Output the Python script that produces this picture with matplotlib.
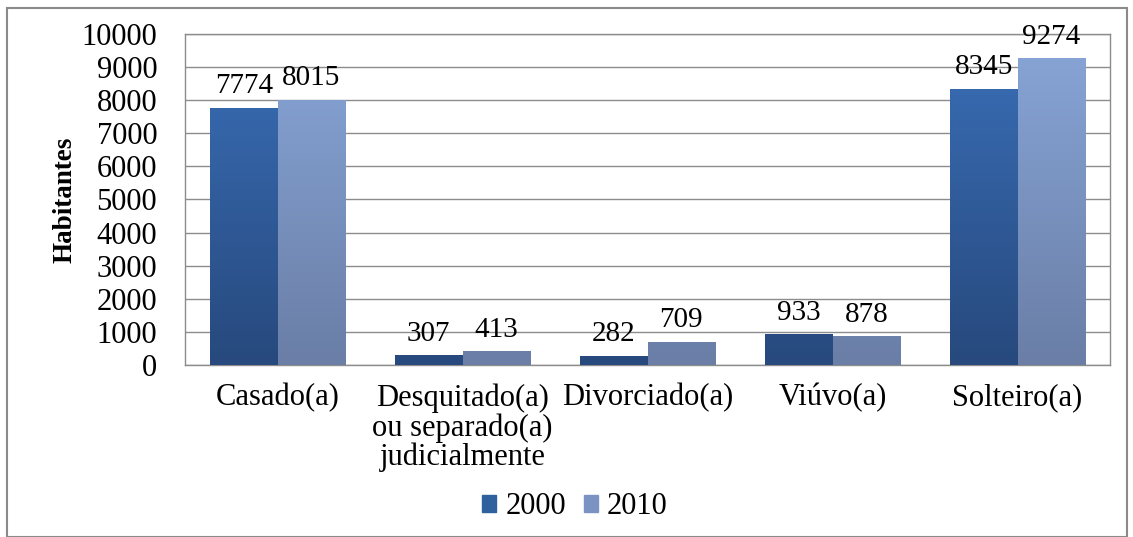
import matplotlib
matplotlib.use("Agg")
import matplotlib.pyplot as plt
import numpy as np
from matplotlib.patches import Rectangle
from matplotlib.colors import LinearSegmentedColormap

categories = ["Casado(a)", "Desquitado(a)\nou separado(a)\njudicialmente", "Divorciado(a)", "Viúvo(a)", "Solteiro(a)"]
series_names = ["2000", "2010"]
values_2000 = [7774, 307, 282, 933, 8345]
values_2010 = [8015, 413, 709, 878, 9274]
yticks = [0, 1000, 2000, 3000, 4000, 5000, 6000, 7000, 8000, 9000, 10000]

plt.rcParams['font.family'] = ['Liberation Serif', 'DejaVu Serif']

fig = plt.figure(figsize=(11.33, 5.37), dpi=100)
ax = fig.add_axes([185/1133, 1-365/537, (1110-185)/1133, (365-34)/537])

# outer border
fig.patches.append(Rectangle((7/1133, 0.0), (1127-7)/1133, 1-8/537, transform=fig.transFigure,
                             fill=False, edgecolor='#8a8a8a', linewidth=1.5))

x = np.arange(len(categories))
w = 0.365
grads = [
    LinearSegmentedColormap.from_list('g1', ['#27497d', '#3a6fb8']),
    LinearSegmentedColormap.from_list('g2', ['#6a7ea6', '#88a6d8']),
]
legend_colors = ['#30619f', '#7a93c2']
all_vals = [values_2000, values_2010]
offsets = [-w/2, w/2]

ax.set_xlim(-0.5, len(categories)-0.5)
ax.set_ylim(0, 10000)

grad = np.linspace(0, 1, 256).reshape(-1, 1)
for i, (vals, off) in enumerate(zip(all_vals, offsets)):
    bars = ax.bar(x + off, vals, width=w, color=legend_colors[i], label=series_names[i], zorder=3)
    for b in bars:
        b.set_facecolor('none')
        b.set_edgecolor('none')
        x0 = b.get_x()
        im = ax.imshow(grad, cmap=grads[i], extent=[x0, x0 + b.get_width(), 0, 10000],
                       origin='lower', aspect='auto', zorder=3)
        im.set_clip_path(b)
    for xi, v in zip(x + off, vals):
        ax.annotate(f"{v}", (xi, v), xytext=(0, 6), textcoords='offset points',
                    ha='center', va='bottom', fontsize=21, zorder=4)

ax.set_xlim(-0.5, len(categories)-0.5)
ax.set_ylim(0, 10000)
ax.set_yticks(yticks)
ax.set_yticklabels([str(t) for t in yticks], fontsize=22)
ax.set_xticks(x)
ax.set_xticklabels(categories, fontsize=22, linespacing=1.02)
ax.tick_params(axis='x', length=0, pad=13)
ax.tick_params(axis='y', length=0, pad=20)
ax.yaxis.grid(True, color='#8c8c8c', linewidth=1.0, zorder=0)
ax.set_axisbelow(True)
for s in ax.spines.values():
    s.set_color('#8c8c8c')
    s.set_linewidth(1.0)
ax.set_ylabel("Habitantes", fontsize=19.5, fontweight='bold', labelpad=3)

handles = [Rectangle((0, 0), 1, 1, color=c) for c in legend_colors]
fig.legend(handles, series_names, loc='center', bbox_to_anchor=(575/1133, 1-507/537), ncol=2,
           frameon=False, fontsize=22, handlelength=0.45, handleheight=0.45, handletextpad=0.3,
           columnspacing=0.6)

fig.savefig("out.png", dpi=100)
